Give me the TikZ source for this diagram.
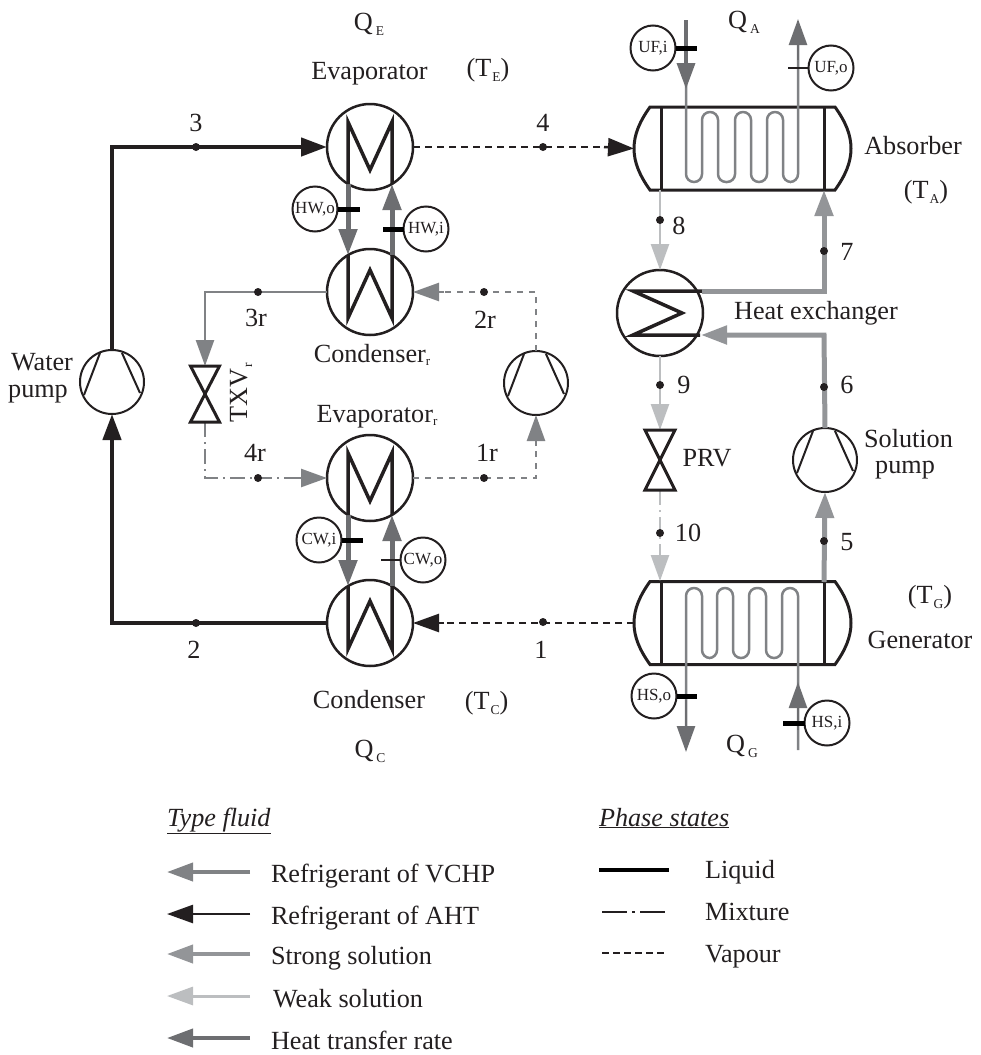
\documentclass[tikz,border=0pt]{standalone}
\usepackage{fontspec}
\setmainfont{Liberation Serif}
\usetikzlibrary{arrows.meta,calc}
\definecolor{cvchp}{HTML}{808285}
\definecolor{cstrong}{HTML}{939598}
\definecolor{cweak}{HTML}{BCBEC0}
\definecolor{cheat}{HTML}{6D6E71}
\definecolor{cblk}{HTML}{231F20}
\newcommand{\sbs}[1]{\kern1pt\raisebox{-5pt}{\fontsize{13.5}{13.5}\selectfont #1}}
\newcommand{\sbr}[1]{\raisebox{-3pt}{\fontsize{13}{13}\selectfont #1}}
\newcommand{\sbq}[1]{\kern3pt\raisebox{-5pt}{\fontsize{13.5}{13.5}\selectfont #1}}
\tikzset{
  x=1pt,y=-1pt,
  lbl/.style={inner sep=0pt,outer sep=0pt,text=cblk,font=\fontsize{26.2}{30}\selectfont,align=center},
  lblb/.style={lbl,anchor=base},
  leg/.style={lbl,anchor=base west},
  hx/.style={circle,draw=cblk,line width=2.5pt,minimum size=86pt,inner sep=0pt,outer sep=0pt},
  pmp/.style={circle,draw=cblk,line width=2pt,minimum size=64pt,inner sep=0pt,outer sep=0pt},
  vessel/.style={rectangle,minimum width=185pt,minimum height=83pt,inner sep=0pt,outer sep=0pt},
  meter/.style={circle,draw=cblk,line width=2pt,minimum size=45pt,inner sep=0pt,outer sep=0pt,text=cblk,font=\fontsize{17}{20}\selectfont},
  pt/.style={circle,fill=cblk,minimum size=8pt,inner sep=0pt,outer sep=0pt},
  ah/.style={-{Triangle[length=26pt,width=18pt]}},
  coilline/.style={draw=cblk,line width=3.5pt,miter limit=10},
  heatleg/.style={draw=cheat,line width=5pt,ah},
  tube/.style={draw=cvchp,line width=2.5pt,rounded corners=7.9pt},
  heatline/.style={draw=cheat,line width=3.5pt,ah},
  tickthick/.style={draw=black,line width=5pt},
  tickthin/.style={draw=cblk,line width=2.5pt},
  aht/.style={draw=cblk,line width=4.5pt,ah},
  ahtv/.style={draw=cblk,line width=2.5pt,dash pattern=on 7pt off 5pt},
  tipblack/.style={draw=cblk,line width=2.5pt,ah},
  vchpv/.style={draw=cvchp,line width=2.5pt,dash pattern=on 6pt off 6pt},
  vchpm/.style={draw=cvchp,line width=2.5pt,dash pattern=on 15pt off 5pt on 2pt off 5pt},
  vchpl/.style={draw=cvchp,line width=2.5pt},
  strong/.style={draw=cstrong,line width=5pt,ah},
  weak/.style={draw=cweak,line width=2.5pt,ah},
  weakm/.style={draw=cweak,line width=2.5pt,dash pattern=on 15pt off 5pt on 2pt off 5pt},
  valve/.style={draw=cblk,line width=3pt},
}
\begin{document}
\begin{tikzpicture}
\useasboundingbox (0,0) rectangle (981,1055);
% exchangers
\node[hx] (evap) at (370,147) {};
\node[hx] (condr) at (370,292) {};
\node[hx] (evapr) at (370,478) {};
\node[hx] (cond) at (370,623) {};
\node[hx] (hex) at (660,313) {};
% pumps
\node[pmp] (wp) at (112,382) {};
\node[pmp] (rp) at (536,383) {};
\node[pmp] (sp) at (825,460) {};
\foreach \p in {wp,rp,sp}{
  \draw[cblk,line width=2pt] ([shift={(-12,-29)}]\p.center) -- ([shift={(-28,13)}]\p.center);
  \draw[cblk,line width=2pt] ([shift={(10,-29)}]\p.center) -- ([shift={(28,11)}]\p.center);
}
% vessels
\node[vessel] (abs) at (742.5,148.5) {};
\node[vessel] (gen) at (742.5,623) {};
\foreach \n in {abs,gen}{
  \draw[cblk,line width=3pt] (\n.north west) -- (\n.north east)
     .. controls ([shift={(10,14)}]\n.north east) and ([shift={(16,27)}]\n.north east) .. ([shift={(16,0)}]\n.east)
     .. controls ([shift={(16,-27)}]\n.south east) and ([shift={(10,-14)}]\n.south east) .. (\n.south east)
     -- (\n.south west)
     .. controls ([shift={(-10,-14)}]\n.south west) and ([shift={(-16,-27)}]\n.south west) .. ([shift={(-16,0)}]\n.west)
     .. controls ([shift={(-16,27)}]\n.north west) and ([shift={(-10,14)}]\n.north west) .. (\n.north west) -- cycle;
  \draw[cblk,line width=3pt] ([xshift=-81.5pt]\n.north) -- ([xshift=-81.5pt]\n.south);
  \draw[cblk,line width=3pt] ([xshift=81.5pt]\n.north) -- ([xshift=81.5pt]\n.south);
}
\coordinate (absW) at ([xshift=-16pt]abs.west);
\coordinate (genW) at ([xshift=-16pt]gen.west);
% tubes in vessels
\draw[tube] (686,20) -- (686,182) -- (702,182) -- (702,112) -- (718,112) -- (718,182) -- (735,182) -- (735,112) -- (751,112) -- (751,182) -- (767,182) -- (767,112) -- (783,112) -- (783,182) -- (798,182) -- (798,30);
\draw[tube] (686,740) -- (686,588) -- (702,588) -- (702,658) -- (717,658) -- (717,588) -- (733,588) -- (733,658) -- (749,658) -- (749,588) -- (766,588) -- (766,658) -- (782,658) -- (782,588) -- (798,588) -- (798,750);
% heat transfer heads on vessels
\coordinate (ufa) at (686,20);
\coordinate (ufb) at (686,89);
\coordinate (ufc) at (798,60);
\coordinate (ufd) at (798,19);
\draw[heatline] (ufa) -- (ufb);
\draw[draw=cheat,line width=2.5pt,ah] (ufc) -- (ufd);
\coordinate (hsa) at (686,700);
\coordinate (hsb) at (686,752);
\coordinate (hsc) at (798,730);
\coordinate (hsd) at (798,682);
\draw[draw=cheat,line width=2.5pt,ah] (hsa) -- (hsb);
\draw[draw=cheat,line width=2.5pt,ah] (hsc) -- (hsd);
% hot / cold water legs
\draw[heatleg] ([shift={(-22,37)}]evap.center) -- ([shift={(-22,-37)}]condr.center);
\draw[heatleg] ([shift={(22,-37)}]condr.center) -- ([shift={(22,37)}]evap.center);
\draw[heatleg] ([shift={(-22,37)}]evapr.center) -- ([shift={(-22,-37)}]cond.center);
\draw[heatleg] ([shift={(22,-37)}]cond.center) -- ([shift={(22,37)}]evapr.center);
% coils
\foreach \n in {evap,evapr}{
  \draw[coilline] ([shift={(-22,37)}]\n.center) -- ([shift={(-22,-25)}]\n.center) -- ([shift={(0,23)}]\n.center) -- ([shift={(22,-25)}]\n.center) -- ([shift={(22,37)}]\n.center);
}
\foreach \n in {condr,cond}{
  \draw[coilline] ([shift={(-22,-37)}]\n.center) -- ([shift={(-22,26)}]\n.center) -- ([shift={(0,-22)}]\n.center) -- ([shift={(22,26)}]\n.center) -- ([shift={(22,-37)}]\n.center);
}
\draw[coilline] (702,291) -- (633,291) -- (682,313) -- (633,335) -- (700,335);
% AHT refrigerant
\coordinate (c3) at (112,147);
\coordinate (c2) at (112,623);
\draw[aht] (wp.north) -- (c3) -- (evap.west);
\draw[aht] (cond.west) -- (c2) -- (wp.south);
\coordinate (a4) at (604,147);
\draw[ahtv] (evap.east) -- (a4);
\draw[tipblack] (a4) -- (absW);
\coordinate (a1) at (444,623);
\draw[ahtv] (genW) -- (a1);
\draw[tipblack] (a1) -- (cond.east);
% VCHP refrigerant
\coordinate (c2r) at (536,292);
\coordinate (c3r) at (205,292);
\coordinate (c4r) at (205,478);
\coordinate (c1r) at (536,478);
\coordinate (txvT) at (205,366);
\coordinate (txvB) at (205,422);
\coordinate (a2r) at (444,292);
\draw[vchpv] (rp.north) -- (c2r) -- (a2r);
\draw[vchpl,ah] (a2r) -- (condr.east);
\draw[vchpl,ah] (condr.west) -- (c3r) -- (txvT);
\coordinate (a4r) at (296,478);
\draw[vchpm] (txvB) -- (c4r) -- (a4r);
\draw[vchpl,ah] (a4r) -- (evapr.west);
\coordinate (a1r) at (536,446);
\draw[vchpv] (evapr.east) -- (c1r) -- (a1r);
\draw[vchpl,ah] (a1r) -- (rp.south);
% solution circuit
\coordinate (c7) at (824,291);
\coordinate (c6) at (824,335);
\coordinate (absB) at (824,190);
\coordinate (genT) at (824,582);
\coordinate (h7) at (702,291);
\coordinate (h6) at (701,335);
\draw[strong] (h7) -- (c7) -- (absB);
\draw[strong] (sp.north) -- (c6) -- (h6);
\draw[strong] (genT) -- (sp.south);
% weak
\coordinate (absB8) at (660,190);
\coordinate (genT10) at (660,581);
\coordinate (prvT) at (660,430);
\coordinate (prvB) at (660,490);
\draw[weak] (absB8) -- (hex.north);
\draw[weak] (hex.south) -- (prvT);
\coordinate (a10) at (660,552);
\draw[weakm] (prvB) -- (a10);
\draw[weak] (a10) -- (genT10);
% valves
\draw[valve] ([xshift=-15pt]prvT) -- ([xshift=15pt]prvT) -- ([xshift=-15pt]prvB) -- ([xshift=15pt]prvB) -- cycle;
\draw[valve] ([xshift=-14.5pt]txvT) -- ([xshift=14.5pt]txvT) -- ([xshift=-14.5pt]txvB) -- ([xshift=14.5pt]txvB) -- cycle;
% state points
\node[pt] (p3) at (196,147) {};
\node[pt] (p2) at (196,623) {};
\node[pt] (p4) at (543,147) {};
\node[pt] (p1) at (543,622) {};
\node[pt] (p2r) at (484,292) {};
\node[pt] (p3r) at (258,292) {};
\node[pt] (p4r) at (258,478) {};
\node[pt] (p1r) at (484,478) {};
\node[pt] (p8) at (660,220) {};
\node[pt] (p9) at (660,385) {};
\node[pt] (p10) at (660,533) {};
\node[pt] (p7) at (824,251) {};
\node[pt] (p6) at (824,387) {};
\node[pt] (p5) at (824,541) {};
% meters
\node[meter] (hwo) at (315,209) {HW,o};
\node[meter] (hwi) at (426,229) {HW,i};
\node[meter] (cwi) at (319,540) {CW,i};
\node[meter] (cwo) at (423,560) {CW,o};
\node[meter] (ufi) at (653,48) {UF,i};
\node[meter] (ufo) at (831,68) {UF,o};
\node[meter] (hso) at (654,696) {HS,o};
\node[meter] (hsi) at (827,723) {HS,i};
\draw[tickthick] (hwo.east) -- ++(22,0);
\draw[tickthick] (hwi.west) -- ++(-21,0);
\draw[tickthick] (cwi.east) -- ++(21,0);
\draw[tickthin] (cwo.west) -- ++(-20,0);
\draw[tickthick] (ufi.east) -- ++(21,0);
\draw[tickthin] (ufo.west) -- ++(-21,0);
\draw[tickthick] (hso.east) -- ++(20,0);
\draw[tickthick] (hsi.west) -- ++(-22,0);
% labels
\node[lbl] (l3) at (196,123) {3};
\node[lbl] (l2) at (194,650) {2};
\node[lbl] (l4) at (543,123) {4};
\node[lbl] (l1) at (541,650) {1};
\node[lbl] (l2r) at (485,320) {2r};
\node[lbl] (l3r) at (256,318) {3r};
\node[lbl] (l4r) at (255,453) {4r};
\node[lbl] (l1r) at (487,453) {1r};
\node[lbl] (l8) at (679,226) {8};
\node[lbl] (l9) at (684,385) {9};
\node[lbl] (l10) at (688,533) {10};
\node[lbl] (l7) at (847,252) {7};
\node[lbl] (l6) at (847,385) {6};
\node[lbl] (l5) at (847,542) {5};
\node[lblb] (qe) at (369,30) {Q\sbq{E}};
\node[lblb] (qa) at (744,28) {Q\sbq{A}};
\node[lblb] (qc) at (370,757) {Q\sbq{C}};
\node[lblb] (qg) at (742,752) {Q\sbq{G}};
\node[lblb] (tevap) at (369.5,79) {Evaporator};
\node[lblb] (te) at (488,76) {(T\sbs{E})};
\node[lblb] (tabs) at (913,154) {Absorber};
\node[lblb] (ta) at (926,198) {(T\sbs{A})};
\node[lblb] (thex) at (816,319) {Heat exchanger};
\node[lblb] (tsp1) at (908.5,447) {Solution};
\node[lblb] (tsp2) at (905,473) {pump};
\node[lblb] (twp1) at (42,370) {Water};
\node[lblb] (twp2) at (38,397) {pump};
\node[lblb] (tcr) at (372,362) {Condenser\sbr{r}};
\node[lblb] (ter) at (377,422) {Evaporator\sbr{r}};
\node[lblb] (tprv) at (707,466.5) {PRV};
\node[lbl,rotate=90,anchor=base] (ttxv) at (247,393) {TXV\sbs{r}};
\node[lblb] (tg) at (930,603) {(T\sbs{G})};
\node[lblb] (tgen) at (920,648) {Generator};
\node[lblb] (tcond) at (369,708) {Condenser};
\node[lblb] (tc) at (486.5,709) {(T\sbs{C})};
% legend
\node[leg] (ltf) at (167,826) {\underline{\textit{Type fluid}}};
\node[leg] (lps) at (599,826) {\underline{\textit{Phase states}}};
\coordinate (ar1) at (250,872); \coordinate (at1) at (167,872);
\coordinate (ar2) at (250,914); \coordinate (at2) at (167,914);
\coordinate (ar3) at (250,954); \coordinate (at3) at (167,954);
\coordinate (ar4) at (250,996); \coordinate (at4) at (167,996);
\coordinate (ar5) at (250,1038); \coordinate (at5) at (167,1038);
\draw[draw=cvchp,line width=4pt,ah] (ar1) -- (at1);
\draw[draw=cblk,line width=2.5pt,ah] (ar2) -- (at2);
\draw[draw=cstrong,line width=4pt,ah] (ar3) -- (at3);
\draw[draw=cweak,line width=3pt,ah] (ar4) -- (at4);
\draw[draw=cheat,line width=4pt,ah] (ar5) -- (at5);
\node[leg] (lt1) at (271,882) {Refrigerant of VCHP};
\node[leg] (lt2) at (271,924) {Refrigerant of AHT};
\node[leg] (lt3) at (271,964) {Strong solution};
\node[leg] (lt4) at (273,1007) {Weak solution};
\node[leg] (lt5) at (271,1049) {Heat transfer rate};
\coordinate (ps1a) at (599,870); \coordinate (ps1b) at (669,870);
\coordinate (ps2a) at (602,912); \coordinate (ps2b) at (665,912);
\coordinate (ps3a) at (602,953); \coordinate (ps3b) at (665,953);
\draw[draw=black,line width=3.5pt] (ps1a) -- (ps1b);
\draw[draw=cblk,line width=2.5pt,dash pattern=on 25pt off 5pt on 3pt off 5pt on 25pt] (ps2a) -- (ps2b);
\draw[draw=cblk,line width=2.5pt,dash pattern=on 7pt off 4pt] (ps3a) -- (ps3b);
\node[leg] (lp1) at (705,878) {Liquid};
\node[leg] (lp2) at (705,920) {Mixture};
\node[leg] (lp3) at (705,962) {Vapour};
\end{tikzpicture}
\end{document}
